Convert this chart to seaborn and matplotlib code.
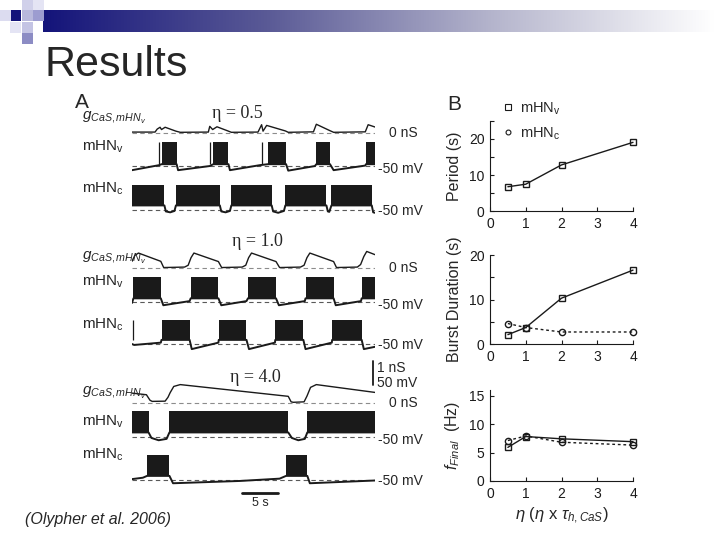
import seaborn as sns
import pandas as pd
import matplotlib.pyplot as plt
from matplotlib.lines import Line2D
from matplotlib.patches import Rectangle
from matplotlib.colors import LinearSegmentedColormap
import numpy as np

# ---- panel B data ----
eta = [0.5, 1, 2, 4]
period_v = [6.8, 7.5, 12.8, 19.0]
burst_v = [2.1, 3.7, 10.3, 16.6]
burst_c = [4.6, 3.7, 2.7, 2.7]
freq_v = [5.9, 7.8, 7.4, 6.9]
freq_c = [7.1, 7.9, 6.8, 6.3]

# ---- panel A traces (time in s, g in nS, V in mV) ----
g1 = [(0, 0.04), (3.2, 0.04), (3.5, 0.17), (3.9, 0.25), (4.1, 0.15), (4.6, 0.25), (6.1, 0.08), (6.7, 0.03),
      (10.6, 0.04), (10.8, 0.29), (11.2, 0.15), (11.8, 0.27), (13.4, 0.08), (13.8, 0.03), (17.5, 0.04),
      (18.0, 0.36), (18.2, 0.08), (18.7, 0.33), (21.3, 0.09), (21.7, 0.03), (25.2, 0.05), (25.6, 0.38),
      (27.5, 0.10), (28.0, 0.03), (32.4, 0.05), (32.8, 0.36), (33.75, 0.26)]
v1 = [(0, -59), (3.8, -48), (4.1, -46), (6.2, -46), (6.4, -59), (10.8, -50), (11.3, -46), (13.4, -46),
      (13.6, -59), (17.8, -48), (18.9, -46), (21.4, -46), (21.7, -60), (25.4, -50), (25.6, -46), (27.5, -46),
      (28.0, -59), (32.4, -49), (32.5, -46), (33.75, -46)]
bursts_v1 = [(4.1, 6.2), (11.3, 13.4), (18.9, 21.4), (25.6, 27.5), (32.5, 33.75)]
spikes_v1 = [3.8, 10.8, 18.0]
c1 = [(0, -40), (4.5, -40), (4.7, -53), (5.3, -55), (5.9, -52), (6.1, -40), (12.2, -40), (12.4, -53),
      (13.0, -55), (13.6, -52), (13.8, -40), (19.4, -40), (19.6, -53), (20.3, -56), (21.1, -52), (21.3, -40),
      (27.0, -40), (27.2, -53), (27.4, -54), (27.7, -40), (33.3, -40), (33.5, -55), (33.75, -56)]
bursts_c1 = [(0, 4.5), (6.1, 12.2), (13.8, 19.4), (21.3, 27.0), (27.7, 33.3)]
spikes_c1 = []

g2 = [(0, 0.29), (0.4, 0.55), (0.9, 0.65), (4.0, 0.29), (4.4, 0.02), (7.3, 0.04), (7.8, 0.12), (8.2, 0.45),
      (8.6, 0.65), (12.0, 0.28), (12.45, 0.02), (15.3, 0.04), (15.8, 0.12), (16.2, 0.45), (16.6, 0.65),
      (20.0, 0.28), (20.5, 0.02), (23.4, 0.04), (23.9, 0.12), (24.3, 0.45), (24.7, 0.65), (28.0, 0.28),
      (28.4, 0.02), (31.3, 0.04), (31.75, 0.15), (32.2, 0.5), (32.6, 0.72), (33.75, 0.58)]
v2 = [(0, -52), (0.2, -42), (4.0, -42), (4.35, -57), (8.0, -48), (8.15, -42), (12.0, -42), (12.4, -57),
      (15.9, -48), (16.1, -42), (20.0, -42), (20.4, -57), (24.0, -48), (24.1, -42), (28.0, -42), (28.3, -57),
      (31.8, -48), (31.9, -42), (33.75, -42)]
bursts_v2 = [(0.2, 4.0), (8.15, 12.0), (16.1, 20.0), (24.1, 28.0), (31.9, 33.75)]
spikes_v2 = []
c2 = [(0, -50), (0.3, -52), (4.0, -47), (4.1, -41), (8.0, -41), (8.3, -61), (12.0, -47), (12.05, -41),
      (15.9, -41), (16.25, -61), (19.85, -47), (19.9, -41), (23.8, -41), (24.1, -61), (27.75, -47),
      (27.8, -41), (31.9, -41), (32.2, -61), (33.75, -56)]
bursts_c2 = [(4.1, 8.0), (12.05, 15.9), (19.9, 23.8), (27.8, 31.9)]
spikes_c2 = [0.1]

g3 = [(0, 0.43), (2.0, 0.36), (2.5, 0.12), (2.8, 0.07), (4.6, 0.08), (5.0, 0.25), (5.3, 0.45), (5.8, 0.72),
      (6.7, 0.80), (21.7, 0.29), (22.1, 0.05), (22.4, 0.03), (23.9, 0.05), (24.3, 0.3), (24.8, 0.68),
      (25.6, 0.80), (33.75, 0.46)]
v3 = [(0, -40), (2.3, -40), (2.7, -52), (3.7, -57), (4.8, -54), (5.2, -40), (21.7, -40), (22.2, -52),
      (23.1, -57), (24.0, -54), (24.35, -40), (33.75, -40)]
bursts_v3 = [(0, 2.3), (5.2, 21.7), (24.35, 33.75)]
spikes_v3 = []
c3 = [(0, -48), (1.5, -45), (2.1, -41), (5.2, -41), (5.7, -57), (15, -52), (20.5, -47), (21.4, -41),
      (24.35, -41), (24.7, -57), (33.75, -51)]
bursts_c3 = [(2.1, 5.2), (21.4, 24.35)]
spikes_c3 = []

eta_labels = ['η = 0.5', 'η = 1.0', 'η = 4.0']

W, H = 720, 540


def px_axes(fig, left, top, right, bottom):
    return fig.add_axes([left / W, 1 - bottom / H, (right - left) / W, (bottom - top) / H])


def draw_g(fig, pts, dash_y):
    # 1 nS = 23 px, ylim -0.2..1.0
    ax = px_axes(fig, 132, dash_y + 4.6 - 27.6, 375, dash_y + 4.6)
    df = pd.DataFrame(pts, columns=['t', 'g'])
    sns.lineplot(data=df, x='t', y='g', ax=ax, color='k', lw=1.0, estimator=None, sort=False)
    ax.axhline(0, color='0.55', lw=0.8, dashes=(4, 3))
    ax.set_xlim(0, 33.75)
    ax.set_ylim(-0.2, 1.0)
    ax.axis('off')
    return ax


def draw_v(fig, pts, bursts, spikes, dash_y, floor, top):
    # 50 mV = 23 px, ylim -66..10
    ax = px_axes(fig, 132, dash_y + 7.4 - 35, 375, dash_y + 7.4)
    df = pd.DataFrame(pts, columns=['t', 'v'])
    ax.axhline(-50, color='0.35', lw=0.8, dashes=(4, 3))
    sns.lineplot(data=df, x='t', y='v', ax=ax, color='k', lw=1.4, estimator=None, sort=False)
    for s, e in bursts:
        ax.fill_between([s, e], floor, top, color='k', lw=0)
    if spikes:
        ax.vlines(spikes, floor, top, color='k', lw=0.9)
    ax.set_xlim(0, 33.75)
    ax.set_ylim(-66, 10)
    ax.axis('off')
    return ax


def main():
    sns.set_theme(style='white')
    plt.rcParams['font.family'] = ['Liberation Sans', 'DejaVu Sans']
    plt.rcParams['mathtext.fontset'] = 'custom'
    plt.rcParams['mathtext.rm'] = 'Liberation Sans'
    plt.rcParams['mathtext.it'] = 'Liberation Sans:italic'

    fig = plt.figure(figsize=(7.2, 5.4), dpi=100)

    # slide decoration
    deco = fig.add_axes([0, 0, 1, 1])
    deco.set_xlim(0, W)
    deco.set_ylim(H, 0)
    deco.axis('off')
    grad = np.linspace(0, 1, 256).reshape(1, -1)
    cmap = LinearSegmentedColormap.from_list('bar', ['#14147a', '#5a5a96', '#b4b4cc', '#ffffff'])
    deco.imshow(grad, cmap=cmap, extent=(43, 715, 32, 10), aspect='auto')
    squares = [(10, 10, '#14147a'), (0, 10, '#dcdcf0'), (22, 0, '#d0d0ea'), (33, 0, '#e4e4f4'),
               (22, 10, '#b8b8dc'), (33, 10, '#9c9cd0'), (10, 22, '#e4e4f4'), (22, 22, '#c4c4e4'),
               (22, 33, '#8c8cc4')]
    for x, y, c in squares:
        deco.add_patch(Rectangle((x, y), 11, 11, color=c, lw=0))
    deco.set_xlim(0, W)
    deco.set_ylim(H, 0)

    fig.text(45 / W, 1 - 76 / H, 'Results', fontsize=31, ha='left', va='baseline')
    fig.text(25 / W, 1 - 524 / H, '(Olypher et al. 2006)', fontsize=11.5, style='italic',
             ha='left', va='baseline')

    # ---- panel A ----
    fig.text(75 / W, 1 - 108 / H, 'A', fontsize=15, ha='left', va='baseline')
    rows = [
        (g1, v1, bursts_v1, spikes_v1, -46, 2, c1, bursts_c1, spikes_c1, -40, 5, (133, 166, 210), (118, 147, 189), (237, 113)),
        (g2, v2, bursts_v2, spikes_v2, -42, 4, c2, bursts_c2, spikes_c2, -41, 2, (268, 302, 344), (258, 282, 325), (257, 242)),
        (g3, v3, bursts_v3, spikes_v3, -40, 6, c3, bursts_c3, spikes_c3, -42, 4, (403, 437, 480), (393, 422, 455), (255, 378)),
    ]
    for i, (g, v, bv, sv, fv, tv, c, bc, sc, fc, tc, ys, ly, exy) in enumerate(rows):
        draw_g(fig, g, ys[0])
        draw_v(fig, v, bv, sv, ys[1], fv, tv)
        draw_v(fig, c, bc, sc, ys[2], fc, tc)
        fig.text(82 / W, 1 - ly[0] / H, r'$g_{CaS,mHN_v}$', fontsize=11, ha='left', va='center')
        fig.text(82 / W, 1 - ly[1] / H, r'mHN$_\mathregular{v}$', fontsize=11, ha='left', va='center')
        fig.text(82 / W, 1 - ly[2] / H, r'mHN$_\mathregular{c}$', fontsize=11, ha='left', va='center')
        fig.text(exy[0] / W, 1 - exy[1] / H, eta_labels[i], fontsize=13,
                 family=['Liberation Serif', 'DejaVu Serif'], ha='center', va='center')
        fig.text(418 / W, 1 - ys[0] / H, '0 nS', fontsize=10, ha='right', va='center')
        fig.text(423 / W, 1 - (ys[1] + 3) / H, '-50 mV', fontsize=10, ha='right', va='center')
        fig.text(423 / W, 1 - (ys[2] + 1) / H, '-50 mV', fontsize=10, ha='right', va='center')

    # scale bars
    deco.plot([373, 373], [361, 385], color='k', lw=1.3)
    fig.text(377 / W, 1 - 368 / H, '1 nS', fontsize=10, ha='left', va='center')
    fig.text(377 / W, 1 - 383 / H, '50 mV', fontsize=10, ha='left', va='center')
    deco.plot([242, 278], [493, 493], color='k', lw=2)
    fig.text(260 / W, 1 - 503 / H, '5 s', fontsize=9, ha='center', va='center')

    # ---- panel B ----
    fig.text(447 / W, 1 - 110 / H, 'B', fontsize=15, ha='left', va='baseline')
    specs = [
        (211.5, 25, [0, 10, 20], [5, 15, 25], 'Period (s)', [(period_v, 's', '-')]),
        (344, 20, [0, 10, 20], [5, 15], 'Burst Duration (s)', [(burst_v, 's', '-'), (burst_c, 'o', (0, (2, 2)))]),
        (481, 16, [0, 5, 10, 15], [], r'$f_{Final}$  (Hz)', [(freq_v, 's', '-'), (freq_c, 'o', (0, (2, 2)))]),
    ]
    axes = []
    for bot, ymax, majors, minors, ylabel, series in specs:
        scale = {25: 91 / 25, 20: 89 / 20, 16: 5.7}[ymax]
        ax = px_axes(fig, 490, bot - ymax * scale, 633, bot)
        for vals, mk, ls in series:
            df = pd.DataFrame({'eta': eta, 'val': vals})
            sns.lineplot(data=df, x='eta', y='val', ax=ax, color='k', lw=1.0, linestyle=ls,
                         marker=mk, markersize=5 if mk == 's' else 4.5, markerfacecolor='none',
                         markeredgecolor='k', markeredgewidth=1.0, clip_on=False)
        ax.set_xlim(0, 4)
        ax.set_ylim(0, ymax)
        ax.set_xticks([0, 1, 2, 3, 4])
        ax.set_yticks(majors)
        ax.set_yticks(minors, minor=True)
        ax.tick_params(direction='in', length=3, width=0.8, labelsize=10, colors='k', which='both',
                       left=True, bottom=True, pad=4)
        for s in ['top', 'right']:
            ax.spines[s].set_visible(False)
        for s in ['left', 'bottom']:
            ax.spines[s].set_color('k')
            ax.spines[s].set_linewidth(0.8)
        ax.set_xlabel('')
        ax.set_ylabel(ylabel, fontsize=11.5, labelpad=5)
        ax.set_facecolor('none')
        axes.append(ax)

    axes[2].set_xlabel(r'$\eta$ ($\eta$ x $\tau_{h,CaS}$)', fontsize=12, labelpad=4)

    handles = [Line2D([], [], ls='none', marker='s', ms=4, mfc='none', mec='k', mew=0.8),
               Line2D([], [], ls='none', marker='o', ms=3.5, mfc='none', mec='k', mew=0.8)]
    fig.legend(handles, [r'mHN$_\mathregular{v}$', r'mHN$_\mathregular{c}$'], loc='upper left',
               bbox_to_anchor=(486 / W, 1 - 87 / H), frameon=False, fontsize=10.5,
               handletextpad=0.2, handlelength=1.2, labelspacing=0.6)

    fig.savefig('out.png', dpi=100, facecolor='white')
    plt.close(fig)


if __name__ == '__main__':
    main()
